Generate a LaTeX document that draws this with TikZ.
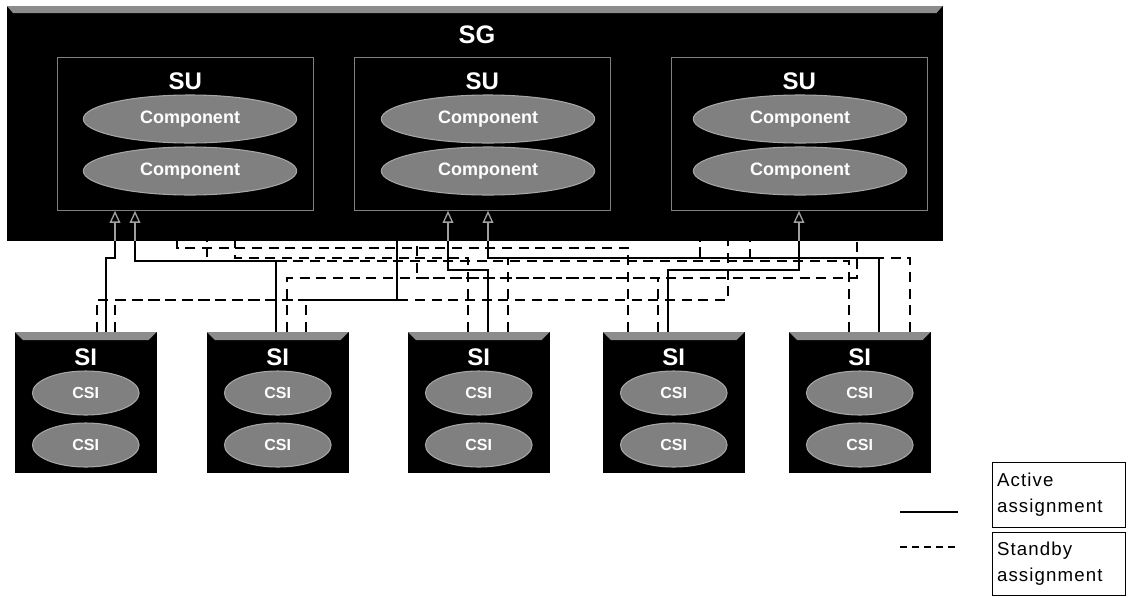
\documentclass[tikz,border=0pt]{standalone}
\usepackage{fontspec}
\setmainfont{Liberation Sans}
\newfontfamily\legendfont[LetterSpace=6]{Liberation Sans}
\usepackage{tikz}
\usetikzlibrary{shapes.geometric,arrows.meta,calc,positioning}

\tikzset{
  grouppart/.style={fill=black, draw=black, anchor=north west, minimum width=701.25pt, minimum height=175.5pt},
  unitpart/.style={draw=gray, line width=0.6pt, anchor=north west, minimum width=192pt, minimum height=114.75pt},
  sipart/.style={fill=black, draw=black, anchor=north west, minimum width=105.75pt, minimum height=105pt},
  comppart/.style={ellipse, fill=black!50, draw=gray!70, line width=0.8pt, text=white, inner sep=0pt,
    minimum width=160pt, minimum height=36pt, font=\bfseries\fontsize{13.5}{13.5}\selectfont},
  csipart/.style={ellipse, fill=black!50, draw=gray!70, line width=0.8pt, text=white, inner sep=0pt,
    minimum width=80pt, minimum height=33pt, font=\bfseries\fontsize{12}{12}\selectfont},
  biglabel/.style={text=white, inner sep=0pt, font=\bfseries\fontsize{19}{19}\selectfont},
  bevel/.style={fill=black!45},
  active/.style={line width=1.3pt},
  standby/.style={line width=1.3pt, dash pattern=on 7.5pt off 5pt},
  inarrow/.style={draw=gray!75, line width=1pt, -{Triangle[open, length=9pt, width=8pt]}},
  legbox/.style={draw, line width=0.8pt, anchor=north west, align=left, inner xsep=3pt,
    text width=93pt, minimum width=99.75pt, font=\legendfont\fontsize{14}{19.5}\selectfont}
}

\begin{document}
\begin{tikzpicture}[x=0.75pt, y=-0.75pt]
  \useasboundingbox (0,0) rectangle (1146,597);

  % service group with its three units
  \node[grouppart] (sg) at (7,6) {};
  \fill[bevel] (sg.north west) -- (sg.north east) -- ($(sg.north east)+(-6,7)$) -- ($(sg.north west)+(6,7)$) -- cycle;
  \node[biglabel] (sg-name) at (477,35) {SG};
  \foreach \n/\x/\cx in {1/57/190, 2/354/488, 3/671/800} {
    \node[unitpart] (su\n) at (\x,57) {};
    \node[biglabel, font=\bfseries\fontsize{18}{18}\selectfont] (su\n-name) at ($(su\n.north)+(0,24)$) {SU};
    \node[comppart] (comp\n-a) at (\cx,119) {Component};
    \node[comppart] (comp\n-b) at (\cx,171) {Component};
  }

  % service instances
  \foreach \n/\x in {1/15, 2/207, 3/408, 4/603, 5/789} {
    \node[sipart] (si\n) at (\x,332) {};
    \fill[bevel] (si\n.north west) -- (si\n.north east) -- ($(si\n.north east)+(-8,8)$) -- ($(si\n.north west)+(8,8)$) -- cycle;
    \node[biglabel, font=\bfseries\fontsize{18}{18}\selectfont] (si\n-name) at ($(si\n.north)+(0,25)$) {SI};
    \node[csipart] (csi\n-a) at ($(si\n.north)+(0,61)$) {CSI};
    \node[csipart] (csi\n-b) at ($(si\n.north)+(0,113)$) {CSI};
  }

  % routing levels
  \foreach \t in {248,258,261,270,278,300} { \coordinate (t\t) at (0,\t); }

  % active assignments
  \foreach \si/\dx/\trk/\su/\ux in {si1/91/258/su1/58, si2/69/261/su1/78, si3/80/270/su2/94, si4/65/270/su3/128, si5/90/258/su2/134} {
    \path ($(\si.north west)+(\dx,0)$) coordinate (p) ($(\su.south west)+(\ux,0)$) coordinate (q);
    \draw[active] (p) -- (p |- t\trk) -| (q |- sg.south);
    \draw[inarrow] (q |- sg.south) -- (q);
  }

  % standby assignments
  \foreach \si/\dx/\trk/\su/\ux in {si1/82/300/su3/57, si1/100/300/su2/43, si2/80/278/su3/186, si2/99/300/su2/43,
      si3/60/258/su1/178, si3/100/258/su3/29, si4/25/248/su1/120, si4/55/278/su2/63, si5/60/261/su1/150, si5/121/258/su3/79} {
    \path ($(\si.north west)+(\dx,0)$) coordinate (p) ($(\su.south west)+(\ux,0)$) coordinate (q);
    \draw[standby] (p) -- (p |- t\trk) -| (q |- sg.south);
  }

  % legend
  \node[legbox, minimum height=48.75pt] (leg-active) at (992,462) {Active\\assignment};
  \node[legbox, minimum height=47.25pt] (leg-standby) at (992,532) {Standby\\assignment};
  \coordinate (la1) at (900,512);
  \coordinate (la2) at (958,512);
  \coordinate (ls1) at (900,547);
  \coordinate (ls2) at (958,547);
  \draw[line width=0.8pt] (la1) -- (la2);
  \draw[line width=0.8pt, dash pattern=on 5pt off 4pt] (ls1) -- (ls2);
\end{tikzpicture}
\end{document}
